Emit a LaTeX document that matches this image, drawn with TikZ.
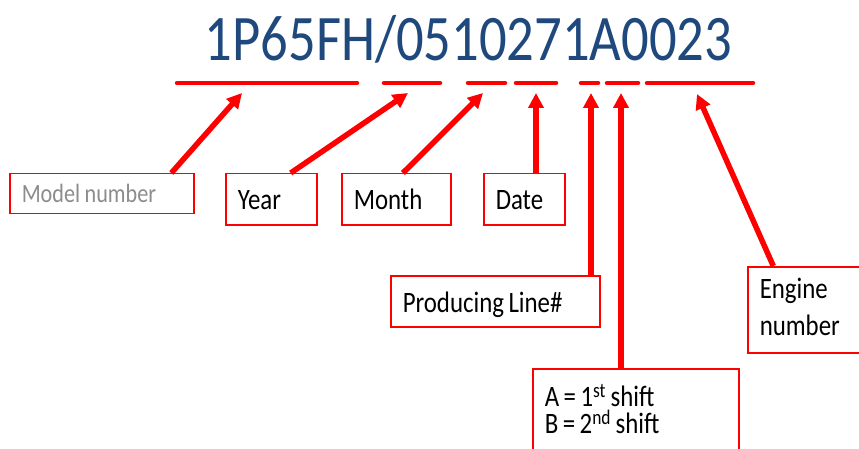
\documentclass[tikz,border=0pt]{standalone}
\usepackage{fontspec}
\setmainfont{Carlito}[FakeStretch=0.84]
\usetikzlibrary{arrows.meta,calc}
\definecolor{codeblue}{RGB}{31,73,125}
\definecolor{tagred}{RGB}{255,0,0}
\definecolor{taggray}{RGB}{140,140,140}
\tikzset{
	bar/.style={tagred, line width=4.5pt, line cap=round},
	pointer/.style={tagred, line width=5.5pt, -{Triangle[length=15pt,width=15pt]}},
	tag/.style={draw=tagred, line width=1.5pt, anchor=north west,
		inner xsep=12pt, inner ysep=0pt, font=\fontsize{29.6}{37}\selectfont,
		text height=36pt, text depth=15pt, execute at begin node={\spaceskip=4.5pt\relax}},
}
\begin{document}
\begin{tikzpicture}[x=1pt,y=-1pt]
		\useasboundingbox (0,0) rectangle (859,449);
		\clip (0,0) rectangle (859,449);
		
		\node[codeblue, anchor=base, font=\fontsize{65}{70}\selectfont] (code) at (468.5,61) {1P65FH/0510271A0023};
		\foreach \a/\b in {175/359, 382/442, 466/507, 514/558, 579/600, 605/640, 645/755}{
			\draw[bar] (\a+2,83) -- (\b-2,83);
		}
		
		% where the arrows point
		\coordinate (modelTip) at (242,93);
		\coordinate (yearTip) at (408,93);
		\coordinate (monthTip) at (483,93);
		\coordinate (dateTip) at (536,93);
		\coordinate (prodlineTip) at (591,93);
		\coordinate (shiftTip) at (621,93);
		\coordinate (engineTip) at (697,94);
		
		\node[tag, text=taggray, text width=160pt, text height=29pt, text depth=11pt,
			font=\fontsize{26.4}{32}\selectfont] (model) at (9,173) {Model number};
		\node[tag, text width=67pt] (year) at (225,173) {Year};
		\node[tag, text width=85pt] (month) at (341,173) {Month};
		\node[tag, text width=57pt] (date) at (483,173) {Date};
		\node[tag, text width=185pt, text height=37pt, text depth=14pt] (prodline) at (390,275) {Producing Line\#};
		\node[tag, text width=182pt, text height=38pt, text depth=100pt,
			font=\fontsize{29.6}{27}\selectfont] (shift) at (532,368) {A = 1\textsuperscript{st} shift\\B = 2\textsuperscript{nd} shift};
		\node[tag, text width=106pt, text height=32pt, text depth=54pt] (engine) at (747,266) {Engine\\number};
		
		\draw[pointer] ($(model.north west)!0.875!(model.north east)$) -- (modelTip);
		\draw[pointer] ($(year.north west)!0.71!(year.north east)$) -- (yearTip);
		\draw[pointer] ($(month.north west)!0.56!(month.north east)$) -- (monthTip);
		\draw[pointer] (dateTip |- date.north) -- (dateTip);
		\draw[pointer] (prodlineTip |- prodline.north) -- (prodlineTip);
		\draw[pointer] (shiftTip |- shift.north) -- (shiftTip);
		\draw[pointer] ($(engine.north west)!0.2!(engine.north east)$) -- (engineTip);
		\end{tikzpicture}
\end{document}
